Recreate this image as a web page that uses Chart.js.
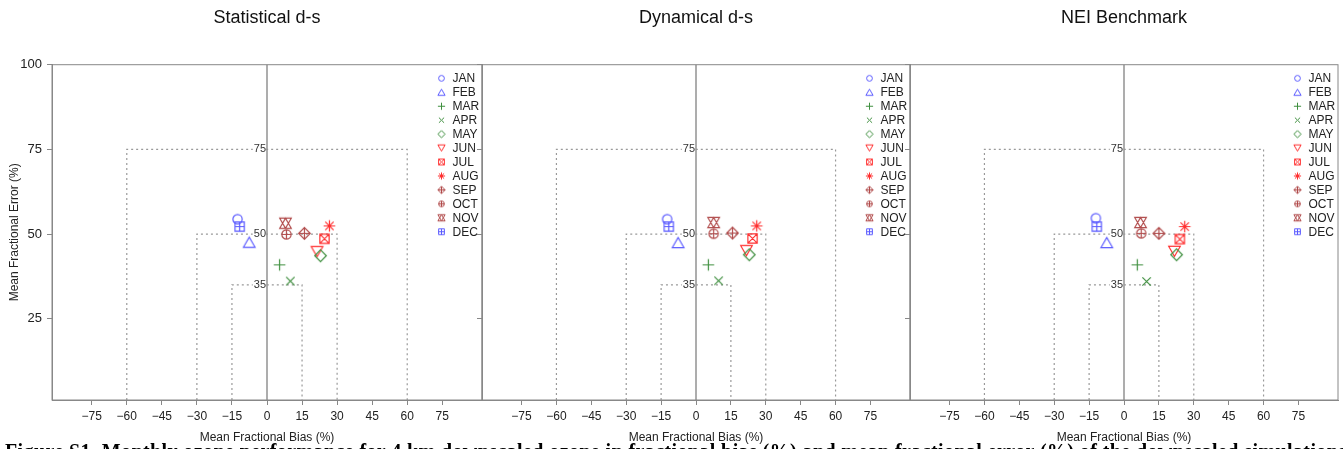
<!DOCTYPE html>
<html>
<head>
<meta charset="utf-8">
<script src="https://cdn.jsdelivr.net/npm/chart.js@4.4.1/dist/chart.umd.min.js"></script>
<style>
  html, body { margin: 0; padding: 0; background: #fff; }
  body { position: relative; width: 1343px; height: 449px; overflow: hidden; }
  canvas { position: absolute; top: 0; }
  #caption { position: absolute; left: 5px; top: 440px; font: bold 20px 'Liberation Serif', serif; white-space: nowrap; color: #000; line-height: 22px; letter-spacing: 0.4px; }
</style>
</head>
<body>
<canvas id="c1" width="482" height="449" style="left:0px"></canvas>
<canvas id="c2" width="434" height="449" style="left:476px"></canvas>
<canvas id="c3" width="439" height="449" style="left:904px"></canvas>
<div id="caption">Figure S1. Monthly ozone performance for 4 km downscaled ozone in fractional bias (%) and mean fractional error (%) of the downscaled simulations</div>
<script>
// months and their symbols
const months = ['JAN', 'FEB', 'MAR', 'APR', 'MAY', 'JUN', 'JUL', 'AUG', 'SEP', 'OCT', 'NOV', 'DEC'];
const monthColors = ['#5a5aff', '#5a5aff', '#3f8f3f', '#3f8f3f', '#3f8f3f', '#ff3030', '#ff3030', '#ff3030', '#b04a4a', '#b04a4a', '#b04a4a', '#5a5aff'];
const monthShapes = ['circle', 'triUp', 'plus', 'cross', 'diamond', 'triDown', 'squareX', 'asterisk', 'diamondPlus', 'circlePlus', 'star6', 'squarePlus'];

// mean fractional bias / error (%) per month
const statBias  = [-12.6, -7.6, 5.4, 10.0, 22.9, 21.4, 24.6, 26.7, 16.0, 8.3, 7.9, -11.7];
const statError = [54.4, 47.6, 40.9, 36.1, 43.6, 44.8, 48.6, 52.4, 50.2, 49.9, 53.2, 52.2];
const dynBias   = [-12.4, -7.7, 5.3, 9.7, 22.9, 21.7, 24.3, 26.1, 15.7, 7.6, 7.6, -11.7];
const dynError  = [54.4, 47.5, 40.9, 36.2, 43.9, 45.1, 48.7, 52.4, 50.3, 50.1, 53.4, 52.2];
const neiBias   = [-12.1, -7.4, 5.7, 9.7, 22.6, 21.7, 24.0, 26.1, 15.0, 7.4, 7.1, -11.7];
const neiError  = [54.7, 47.5, 40.9, 36.0, 43.9, 44.9, 48.5, 52.2, 50.2, 50.2, 53.4, 52.2];

// performance zones (bugle boxes): half width in bias, error limit
const zoneBias  = [60, 30, 15];
const zoneError = [75, 50, 35];

const xTicks = [-75, -60, -45, -30, -15, 0, 15, 30, 45, 60, 75];
const yTicks = [25, 50, 75, 100];
const xMin = -92, xMax = 92, yMin = 1, yMax = 100;

const FONT = "'Liberation Sans', Arial, sans-serif";

function drawShape(g, shape, m, r) {
  const h = r * 0.87;
  g.beginPath();
  const plus = (s) => { g.moveTo(m - s, m); g.lineTo(m + s, m); g.moveTo(m, m - s); g.lineTo(m, m + s); };
  const cross = (s) => { g.moveTo(m - s, m - s); g.lineTo(m + s, m + s); g.moveTo(m - s, m + s); g.lineTo(m + s, m - s); };
  const diamond = (s) => { g.moveTo(m, m - s); g.lineTo(m + s, m); g.lineTo(m, m + s); g.lineTo(m - s, m); g.closePath(); };
  const triUp = () => { g.moveTo(m, m - h); g.lineTo(m + r, m + h); g.lineTo(m - r, m + h); g.closePath(); };
  const triDown = () => { g.moveTo(m, m + h); g.lineTo(m + r, m - h); g.lineTo(m - r, m - h); g.closePath(); };
  const sq = r * 0.8;
  switch (shape) {
    case 'circle': g.arc(m, m, r * 0.8, 0, Math.PI * 2); break;
    case 'triUp': triUp(); break;
    case 'triDown': triDown(); break;
    case 'plus': plus(r); break;
    case 'cross': cross(r * 0.72); break;
    case 'diamond': diamond(r); break;
    case 'squareX': g.rect(m - sq, m - sq, sq * 2, sq * 2); cross(sq); break;
    case 'asterisk': plus(r); cross(r * 0.72); break;
    case 'diamondPlus': diamond(r); plus(r); break;
    case 'circlePlus': g.arc(m, m, r * 0.8, 0, Math.PI * 2); plus(r * 0.8); break;
    case 'star6': triUp(); triDown(); break;
    case 'squarePlus': g.rect(m - sq, m - sq, sq * 2, sq * 2); plus(sq); break;
  }
  g.stroke();
}

function makeMarker(shape, color, r, lw) {
  const c = document.createElement('canvas');
  const size = Math.ceil(r * 2) + 5;
  c.width = size; c.height = size;
  const g = c.getContext('2d');
  g.strokeStyle = color;
  g.lineWidth = lw;
  drawShape(g, shape, size / 2, r);
  return c;
}

const bigMarkers = months.map((m, i) => makeMarker(monthShapes[i], monthColors[i], 5.8, 1.2));
const smallMarkers = months.map((m, i) => makeMarker(monthShapes[i], monthColors[i], 3.6, 1));

const panelPlugin = {
  id: 'panelExtras',
  beforeDatasetsDraw(chart) {
    const { ctx, chartArea, scales } = chart;
    const x0 = scales.x.getPixelForValue(0);
    ctx.save();
    ctx.strokeStyle = '#999';
    ctx.lineWidth = 1.6;
    ctx.beginPath();
    ctx.moveTo(x0, chartArea.top);
    ctx.lineTo(x0, chartArea.bottom);
    ctx.stroke();
    ctx.restore();
  },
  afterDatasetsDraw(chart, args, opts) {
    const { ctx, chartArea, scales } = chart;
    const x0 = scales.x.getPixelForValue(0);
    ctx.save();
    // zone labels
    ctx.font = '11px ' + FONT;
    ctx.textAlign = 'right';
    ctx.textBaseline = 'middle';
    zoneError.forEach(v => {
      const y = scales.y.getPixelForValue(v);
      const t = String(v);
      const w = ctx.measureText(t).width;
      ctx.fillStyle = '#fff';
      ctx.fillRect(x0 - 2 - w, y - 5, w + 1, 10);
      ctx.fillStyle = '#333';
      ctx.fillText(t, x0 - 1, y);
    });
    // frame
    ctx.strokeStyle = '#888';
    ctx.lineWidth = 1;
    ctx.strokeRect(chartArea.left, chartArea.top, chartArea.right - chartArea.left, chartArea.bottom - chartArea.top);
    // legend
    ctx.font = '12px ' + FONT;
    ctx.textAlign = 'left';
    months.forEach((m, i) => {
      const y = chartArea.top + 13.6 + i * 13.95;
      const mk = smallMarkers[i];
      ctx.drawImage(mk, chartArea.right - 40.5 - mk.width / 2, y - mk.height / 2);
      ctx.fillStyle = '#222';
      ctx.fillText(m, chartArea.right - 29.5, y + 0.5);
    });
    // panel title
    ctx.font = '18px ' + FONT;
    ctx.textAlign = 'center';
    ctx.fillStyle = '#111';
    ctx.fillText(opts.title, x0, 18);
    ctx.restore();
  }
};

function makeChart(id, title, bias, error, showY, rightPad) {
  const datasets = months.map((m, i) => ({
    label: m,
    data: [{ x: bias[i], y: error[i] }],
    pointStyle: bigMarkers[i],
    pointRadius: 5,
    borderColor: monthColors[i],
    backgroundColor: monthColors[i]
  }));
  zoneBias.forEach((b, k) => {
    datasets.push({
      label: 'zone' + zoneError[k],
      data: [{ x: -b, y: yMin }, { x: -b, y: zoneError[k] }, { x: b, y: zoneError[k] }, { x: b, y: yMin }],
      showLine: true,
      borderColor: '#999',
      borderWidth: 1.2,
      borderDash: [2, 3],
      pointRadius: 0,
      fill: false
    });
  });

  return new Chart(document.getElementById(id), {
    type: 'scatter',
    data: { datasets },
    options: {
      responsive: false,
      animation: false,
      layout: { autoPadding: false, padding: { top: 64.7, right: rightPad, bottom: 0, left: 0 } },
      plugins: {
        legend: { display: false },
        tooltip: { enabled: false },
        panelExtras: { title: title }
      },
      scales: {
        x: {
          type: 'linear', min: xMin, max: xMax,
          afterBuildTicks: s => { s.ticks = xTicks.map(v => ({ value: v })); },
          afterFit: s => { s.height = 49; },
          grid: { drawOnChartArea: false, drawTicks: true, tickLength: 5, color: '#888' },
          border: { color: '#888' },
          ticks: {
            padding: 4,
            color: '#222',
            font: { family: FONT, size: 12 },
            maxRotation: 0,
            callback: v => v < 0 ? '\u2212' + Math.abs(v) : String(v)
          },
          title: {
            display: true, text: 'Mean Fractional Bias (%)', color: '#222',
            font: { family: FONT, size: 12, lineHeight: 1.2 },
            padding: { top: 4, bottom: 4 }
          }
        },
        y: {
          type: 'linear', min: yMin, max: yMax,
          afterBuildTicks: s => { s.ticks = yTicks.map(v => ({ value: v })); },
          afterFit: s => { s.width = showY ? 52 : 6; },
          grid: { drawOnChartArea: false, drawTicks: true, tickLength: 5, color: '#888' },
          border: { color: '#888' },
          ticks: {
            padding: 5,
            color: '#222',
            font: { family: FONT, size: 13 },
            callback: v => showY ? String(v) : ''
          },
          title: {
            display: showY, text: 'Mean Fractional Error (%)', color: '#222',
            font: { family: FONT, size: 12, lineHeight: 1.2 },
            padding: { top: 7, bottom: 4 }
          }
        }
      }
    },
    plugins: [panelPlugin]
  });
}

makeChart('c1', 'Statistical d-s', statBias, statError, true, 0);
makeChart('c2', 'Dynamical d-s', dynBias, dynError, false, 0);
makeChart('c3', 'NEI Benchmark', neiBias, neiError, false, 5);
</script>
</body>
</html>
